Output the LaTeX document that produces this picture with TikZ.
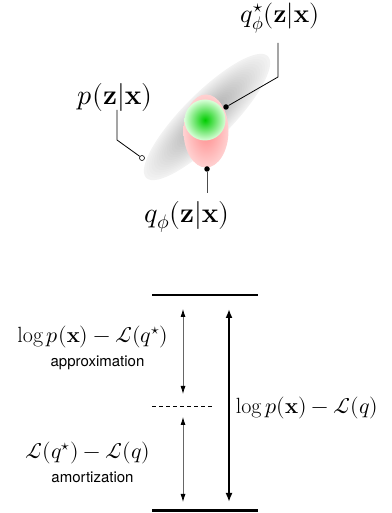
\documentclass[tikz,border=0pt]{standalone}
\usepackage{fontspec}
\usepackage{amsmath}
\usepackage{unicode-math}
\setmathfont{Latin Modern Math}
\newfontfamily\labelsans{TeX Gyre Heros}
\usetikzlibrary{arrows.meta}
\begin{document}
\begin{tikzpicture}[x=1pt,y=1pt,
  biglabel/.style={font=\fontsize{28}{32}\selectfont, inner sep=0pt},
  mathlabel/.style={font=\fontsize{22}{26}\selectfont, inner sep=0pt},
  sanslabel/.style={font=\labelsans\fontsize{15}{18}\selectfont, inner sep=0pt},
  leader/.style={line width=0.8pt, black},
  dotfill/.style={circle, fill=black, inner sep=0pt, minimum size=5.5pt},
  dotopen/.style={circle, draw=black, fill=white, line width=0.6pt, inner sep=0pt, minimum size=5pt},
  bar/.style={line width=2.6pt, black},
  smallarrow/.style={line width=0.8pt, black!60, -{Latex[length=8pt,width=5pt,black]}},
  bigarrow/.style={line width=1.8pt, black, {Latex[length=9pt,width=7pt]}-{Latex[length=9pt,width=7pt]}},
]
\useasboundingbox (0,0) rectangle (391,513);
% distributions
\begin{scope}[shift={(207,396)}, rotate=45]
  \fill[black!5] (0,0) ellipse [x radius=86, y radius=24];
  \foreach \s in {0.96,0.92,...,0.04}
    \fill[black, opacity=0.012] (0,0) ellipse [x radius={86*\s}, y radius={24*\s}];
\end{scope}
\shade[inner color=red!45, outer color=red!18] (206,382) ellipse [x radius=22.5, y radius=36.5];
\shade[inner color=green!80!black, outer color=green!15] (205,393) circle [radius=20.5];
% labels
\node[biglabel, font=\fontsize{26}{30}\selectfont] (qstar) at (280,495) {$q^{\star}_{\phi}(\mathbf{z}|\mathbf{x})$};
\node[biglabel] (p) at (115,415) {$p(\mathbf{z}|\mathbf{x})$};
\node[biglabel] (q) at (187,296) {$q_{\phi}(\mathbf{z}|\mathbf{x})$};
\node[dotfill] (dqs) at (226,406) {};
\node[dotopen] (dp) at (142,355) {};
\node[dotfill] (dq) at (207,344) {};
\coordinate (qsa) at (278,470);
\coordinate (qsb) at (278,436);
\coordinate (pa) at (117,403);
\coordinate (pb) at (117,373);
\coordinate (qa) at (207,320);
\draw[leader] (qsa) -- (qsb) -- (dqs);
\draw[leader] (pa) -- (pb) -- (dp);
\draw[leader, black!70] (dq) -- (qa);
% gap diagram
\coordinate (tl) at (152,218); \coordinate (tr) at (258,218);
\coordinate (bl) at (152,2.5); \coordinate (br) at (258,2.5);
\coordinate (dl) at (152,107); \coordinate (dr) at (212,107);
\draw[bar] (tl) -- (tr);
\draw[bar] (bl) -- (br);
\draw[line width=0.6pt, dash pattern=on 4pt off 3pt] (dl) -- (dr);
\coordinate (a1t) at (183,204); \coordinate (a1b) at (183,119);
\coordinate (a2t) at (183,96); \coordinate (a2b) at (183,11);
\coordinate (bt) at (229,204); \coordinate (bb) at (229,11);
\draw[smallarrow] (183,160) -- (a1t);
\draw[smallarrow] (183,160) -- (a1b);
\draw[smallarrow] (183,55) -- (a2t);
\draw[smallarrow] (183,55) -- (a2b);
\draw[bigarrow] (bb) -- (bt);
\node[mathlabel] (t1) at (93,176) {$\log p(\mathbf{x}) - \mathcal{L}(q^{\star})$};
\node[sanslabel] (s1) at (97.5,150) {approximation};
\node[mathlabel] (t2) at (88,60) {$\mathcal{L}(q^{\star}) - \mathcal{L}(q)$};
\node[sanslabel] (s2) at (92.5,36) {amortization};
\node[mathlabel] (t3) at (307,105) {$\log p(\mathbf{x}) - \mathcal{L}(q)$};
\end{tikzpicture}
\end{document}
